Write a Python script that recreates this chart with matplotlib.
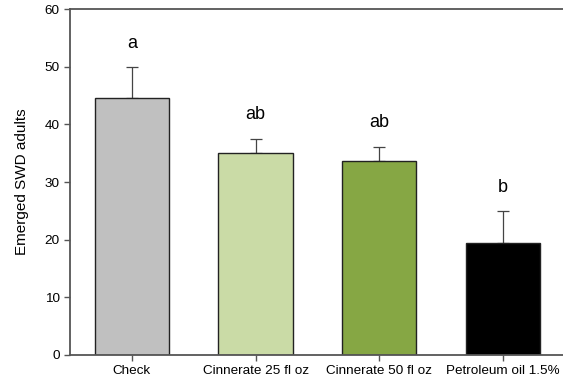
import matplotlib.pyplot as plt
import numpy as np

plt.rcParams['font.family'] = ['Liberation Sans', 'DejaVu Sans']

# Mean emerged adults and standard errors per treatment
treatments = ['Check', 'Cinnerate 25 fl oz', 'Cinnerate 50 fl oz', 'Petroleum oil 1.5%']
means = [44.6, 35.1, 33.7, 19.4]
sems = [5.3, 2.4, 2.4, 5.5]
letters = ['a', 'ab', 'ab', 'b']
colors = ['#c0c0c0', '#cadba6', '#86a744', '#000000']

fig = plt.figure(figsize=(5.63, 3.87), dpi=100)
ax = fig.add_axes([0.1243, 0.0827, 0.879, 0.894])

x = np.arange(len(treatments))
ax.bar(x, means, width=0.6, color=colors, edgecolor='#222222', linewidth=1.0, zorder=2)
ax.errorbar(x, means, yerr=[np.zeros(len(sems)), sems], fmt='none',
            ecolor='#444444', elinewidth=0.9, capsize=4.3, capthick=0.9, zorder=1)

# significance letters above the error bars
for xi, m, s, lab in zip(x, means, sems, letters):
    ax.text(xi, m + s + 4.2, lab, ha='center', va='center', fontsize=13)

ax.set_xlim(-0.5, 3.5)
ax.set_ylim(0, 60)
ax.set_yticks(range(0, 61, 10))
ax.set_xticks(x)
ax.set_xticklabels(treatments, fontsize=9.7)
ax.tick_params(axis='y', labelsize=9.7, direction='out', length=4, color='#555555', width=1)
ax.tick_params(axis='x', direction='out', length=4, color='#555555', width=1)
ax.set_ylabel('Emerged SWD adults', fontsize=11, labelpad=11)

for side in ['left', 'top', 'bottom']:
    ax.spines[side].set_color('#555555')
    ax.spines[side].set_linewidth(1.3)
ax.spines['right'].set_visible(False)

fig.savefig('out.png', dpi=100)
